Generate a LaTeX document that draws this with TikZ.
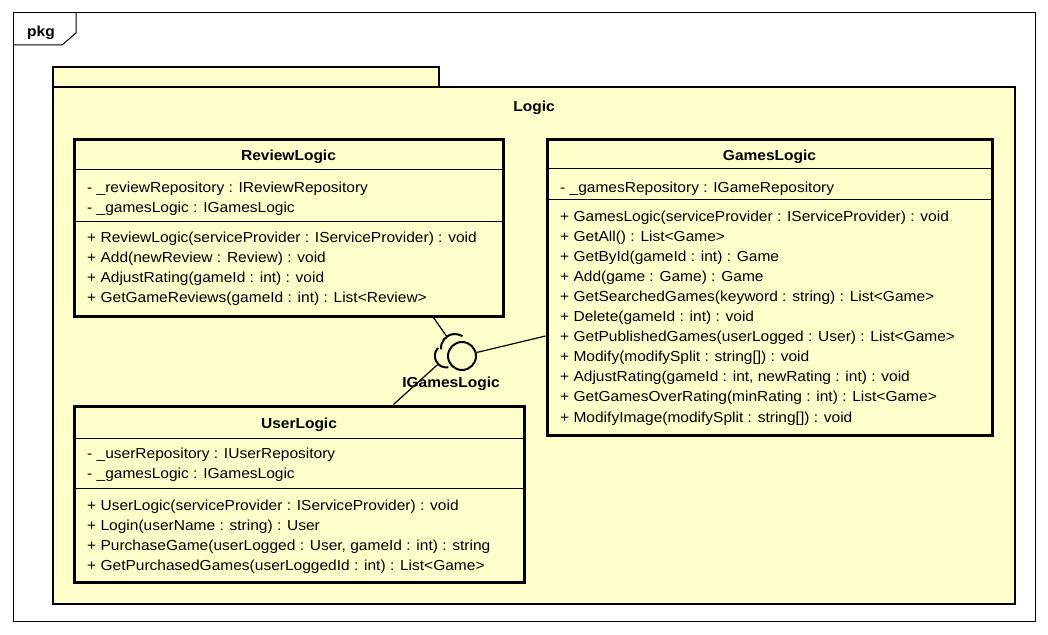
\documentclass[tikz,border=0pt]{standalone}
\usepackage{fontspec}
\setmainfont{Liberation Sans}[FakeStretch=1.07]
\definecolor{uyellow}{RGB}{255,255,204}
\tikzset{
  umlbox/.style={draw, line width=3pt, fill=uyellow, rectangle, inner sep=0pt},
  pkgbox/.style={draw, line width=2.6pt, fill=uyellow, rectangle, inner sep=0pt},
  sepline/.style={line width=1pt},
  member/.style={anchor=base west, inner sep=0pt, font=\fontsize{14.5}{17}\selectfont},
  ctitle/.style={anchor=base, inner sep=0pt, font=\bfseries\fontsize{14.5}{17}\selectfont},
  conn/.style={line width=1.2pt},
  iface/.style={line width=2pt},
}
\begin{document}
\begin{tikzpicture}[x=1pt,y=-1pt]
\useasboundingbox (0,0) rectangle (1048,634);
\fill[white] (0,0) rectangle (1048,634);
% outer frame
\draw[line width=1pt] (13,13) rectangle (1035,621);
\draw[line width=1pt] (13,45) -- (62,45) -- (76,33) -- (76,13);
\node[ctitle] (pkglabel) at (41,37) {pkg};
% package Logic
\node[pkgbox, minimum width=386pt, minimum height=20pt] (logictab) at (246,77) {};
\node[pkgbox, minimum width=962pt, minimum height=517pt] (logic) at (534,345.5) {};
\node[ctitle] (logiclabel) at (534,111) {Logic};
% classes
\node[umlbox, minimum width=429pt, minimum height=177pt] (review) at (288.5,227.5) {};
\node[umlbox, minimum width=445pt, minimum height=296pt] (games) at (769.5,287) {};
\node[umlbox, minimum width=450pt, minimum height=176pt] (user) at (299,494) {};
% separators
\draw[sepline] (review.west |- 0,169) -- (review.east |- 0,169);
\draw[sepline] (review.west |- 0,221) -- (review.east |- 0,221);
\draw[sepline] (games.west |- 0,168) -- (games.east |- 0,168);
\draw[sepline] (games.west |- 0,199) -- (games.east |- 0,199);
\draw[sepline] (user.west |- 0,438) -- (user.east |- 0,438);
\draw[sepline] (user.west |- 0,488) -- (user.east |- 0,488);
% ReviewLogic text
\node[ctitle] (rt) at (288.5,160) {ReviewLogic};
\node[member] (ra1) at (87,192) {- \_reviewRepository : IReviewRepository};
\node[member] (ra2) at (87,212) {- \_gamesLogic : IGamesLogic};
\node[member] (ro1) at (87,242) {+ ReviewLogic(serviceProvider : IServiceProvider) : void};
\node[member] (ro2) at (87,262) {+ Add(newReview : Review) : void};
\node[member] (ro3) at (87,282) {+ AdjustRating(gameId : int) : void};
\node[member] (ro4) at (87,302) {+ GetGameReviews(gameId : int) : List<Review>};
% GamesLogic text
\node[ctitle] (gt) at (769.5,160) {GamesLogic};
\node[member] (ga1) at (560,192) {- \_gamesRepository : IGameRepository};
\node[member] (go1) at (560,221) {+ GamesLogic(serviceProvider : IServiceProvider) : void};
\node[member] (go2) at (560,241.1) {+ GetAll() : List<Game>};
\node[member] (go3) at (560,261.2) {+ GetById(gameId : int) : Game};
\node[member] (go4) at (560,281.3) {+ Add(game : Game) : Game};
\node[member] (go5) at (560,301.4) {+ GetSearchedGames(keyword : string) : List<Game>};
\node[member] (go6) at (560,321.5) {+ Delete(gameId : int) : void};
\node[member] (go7) at (560,341.6) {+ GetPublishedGames(userLogged : User) : List<Game>};
\node[member] (go8) at (560,361.7) {+ Modify(modifySplit : string[]) : void};
\node[member] (go9) at (560,381.8) {+ AdjustRating(gameId : int, newRating : int) : void};
\node[member] (go10) at (560,401.9) {+ GetGamesOverRating(minRating : int) : List<Game>};
\node[member] (go11) at (560,422) {+ ModifyImage(modifySplit : string[]) : void};
% UserLogic text
\node[ctitle] (ut) at (299,428) {UserLogic};
\node[member] (ua1) at (87,458) {- \_userRepository : IUserRepository};
\node[member] (ua2) at (87,478) {- \_gamesLogic : IGamesLogic};
\node[member] (uo1) at (87,510) {+ UserLogic(serviceProvider : IServiceProvider) : void};
\node[member] (uo2) at (87,530) {+ Login(userName : string) : User};
\node[member] (uo3) at (87,550) {+ PurchaseGame(userLogged : User, gameId : int) : string};
\node[member] (uo4) at (87,570) {+ GetPurchasedGames(userLoggedId : int) : List<Game>};
% interface IGamesLogic
\node[circle, draw, iface, fill=uyellow, minimum size=28pt, inner sep=0pt] (ball) at (462,356) {};
\coordinate (rsock) at (446.8,336.6);
\coordinate (usock) at (437.8,364.4);
\draw[iface] (455,348) ++(186:14pt) arc[start angle=186, end angle=58, radius=14pt];
\draw[iface] (446.3,355.9) ++(136:11.5pt) arc[start angle=136, end angle=280, radius=11.5pt];
\draw[conn] ([yshift=-49pt]games.west) -- (ball);
\draw[conn] ([xshift=-71pt]review.south east) -- (rsock);
\draw[conn] ([xshift=321pt]user.north west) -- (usock);
\node[ctitle] (ilabel) at (451,387) {IGamesLogic};
\end{tikzpicture}
\end{document}
